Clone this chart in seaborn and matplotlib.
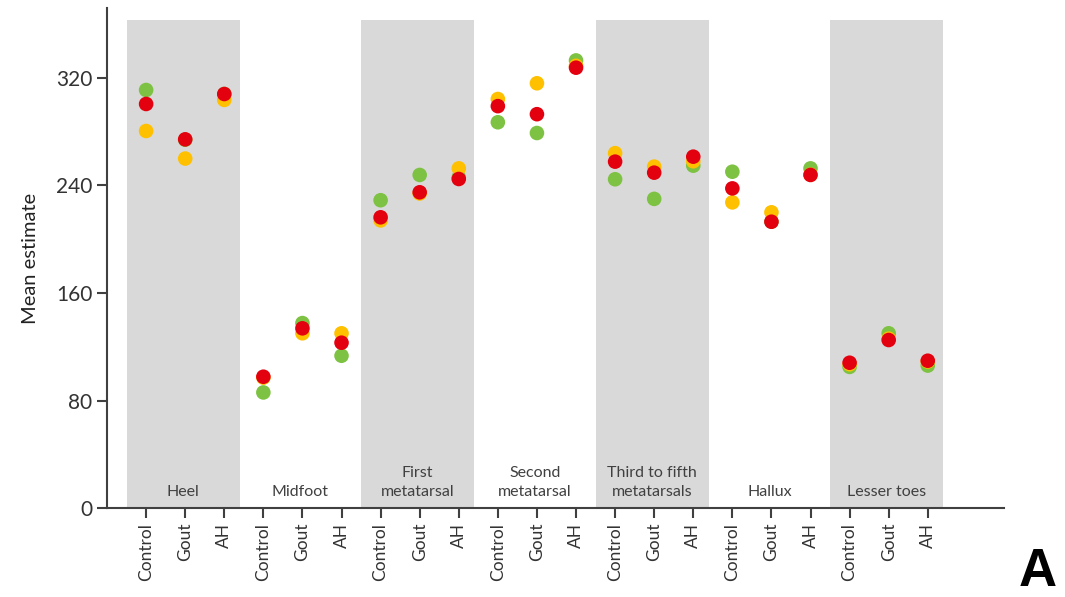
import numpy as np
import pandas as pd
import matplotlib
matplotlib.use("Agg")
import matplotlib.pyplot as plt
import seaborn as sns

regions = ["Heel", "Midfoot", "First\nmetatarsal", "Second\nmetatarsal",
           "Third to fifth\nmetatarsals", "Hallux", "Lesser toes"]
conditions = ["Control", "Gout", "AH"]
series_names = ["Series 1", "Series 2", "Series 3"]
series_colors = ["#7dc242", "#ffc000", "#e3000f"]

# values per region: [Control, Gout, AH]
green_vals = [311, 274, 308, 86, 137.6, 113.3, 229, 247.8, 246,
              287, 279, 333, 244.6, 230, 254.7, 250.2, 213, 252.7,
              105, 130, 106]
yellow_vals = [280.5, 260, 303.6, 97, 130, 130, 214, 234, 252.7,
               304.3, 316, 329, 264, 254, 258, 227.4, 220, 248,
               107, 126, 109]
red_vals = [300.6, 274.3, 308, 97.7, 133.7, 123, 216.3, 234.9, 244.8,
            299, 293, 327.6, 257.7, 249.5, 261.4, 237.8, 213, 247.8,
            108.1, 125, 109.6]

yticks = [0, 80, 160, 240, 320]

keys = [f"{r}|{c}" for r in regions for c in conditions]
rows = []
for name, vals in zip(series_names, [green_vals, yellow_vals, red_vals]):
    for k, v in zip(keys, vals):
        rows.append({"key": k, "value": v, "series": name})
df = pd.DataFrame(rows)

sns.set_theme(style="white")
plt.rcParams["font.family"] = ["Lato", "DejaVu Sans"]

fig = plt.figure(figsize=(10.65, 5.97), dpi=100)
ax = fig.add_axes([0.1005, 0.149, 0.8422, 0.8376])

# alternating grey bands
for g in range(len(regions)):
    if g % 2 == 0:
        ax.axvspan(3 * g - 0.5, 3 * g + 2.4, ymin=0, ymax=363 / 372,
                   color="#d9d9d9", zorder=0, lw=0)

sns.stripplot(data=df, x="key", y="value", hue="series", order=keys,
              hue_order=series_names, palette=series_colors, jitter=False,
              dodge=False, size=10.5, linewidth=0, legend=False, ax=ax,
              zorder=3)

for g, r in enumerate(regions):
    ax.text(3 * g + 0.95, 7, r, ha="center", va="bottom", fontsize=11.5,
            color="#404040", linespacing=1.4, zorder=2)

ax.set_xlim(-1.0, 21.95)
ax.set_ylim(0, 372)
ax.set_yticks(yticks)
ax.set_yticklabels([str(t) for t in yticks], fontsize=15, color="#333333")
ax.set_xticks(range(len(keys)))
ax.set_xticklabels([c for _ in regions for c in conditions], rotation=90,
                   fontsize=12.5, color="#333333")
ax.set_xlabel("")
ax.set_ylabel("Mean estimate", fontsize=14.5, color="#222222", labelpad=12)

for s in ["top", "right"]:
    ax.spines[s].set_visible(False)
for s in ["left", "bottom"]:
    ax.spines[s].set_color("#404040")
    ax.spines[s].set_linewidth(1.5)
ax.tick_params(axis="both", which="major", direction="out", length=7,
               width=1.5, color="#404040", left=True, bottom=True)

fig.text(0.992, 0.018, "A", fontsize=38, fontweight="bold", ha="right",
         va="baseline", color="black", family=["Liberation Sans", "DejaVu Sans"])

fig.savefig("out.png", dpi=100)
